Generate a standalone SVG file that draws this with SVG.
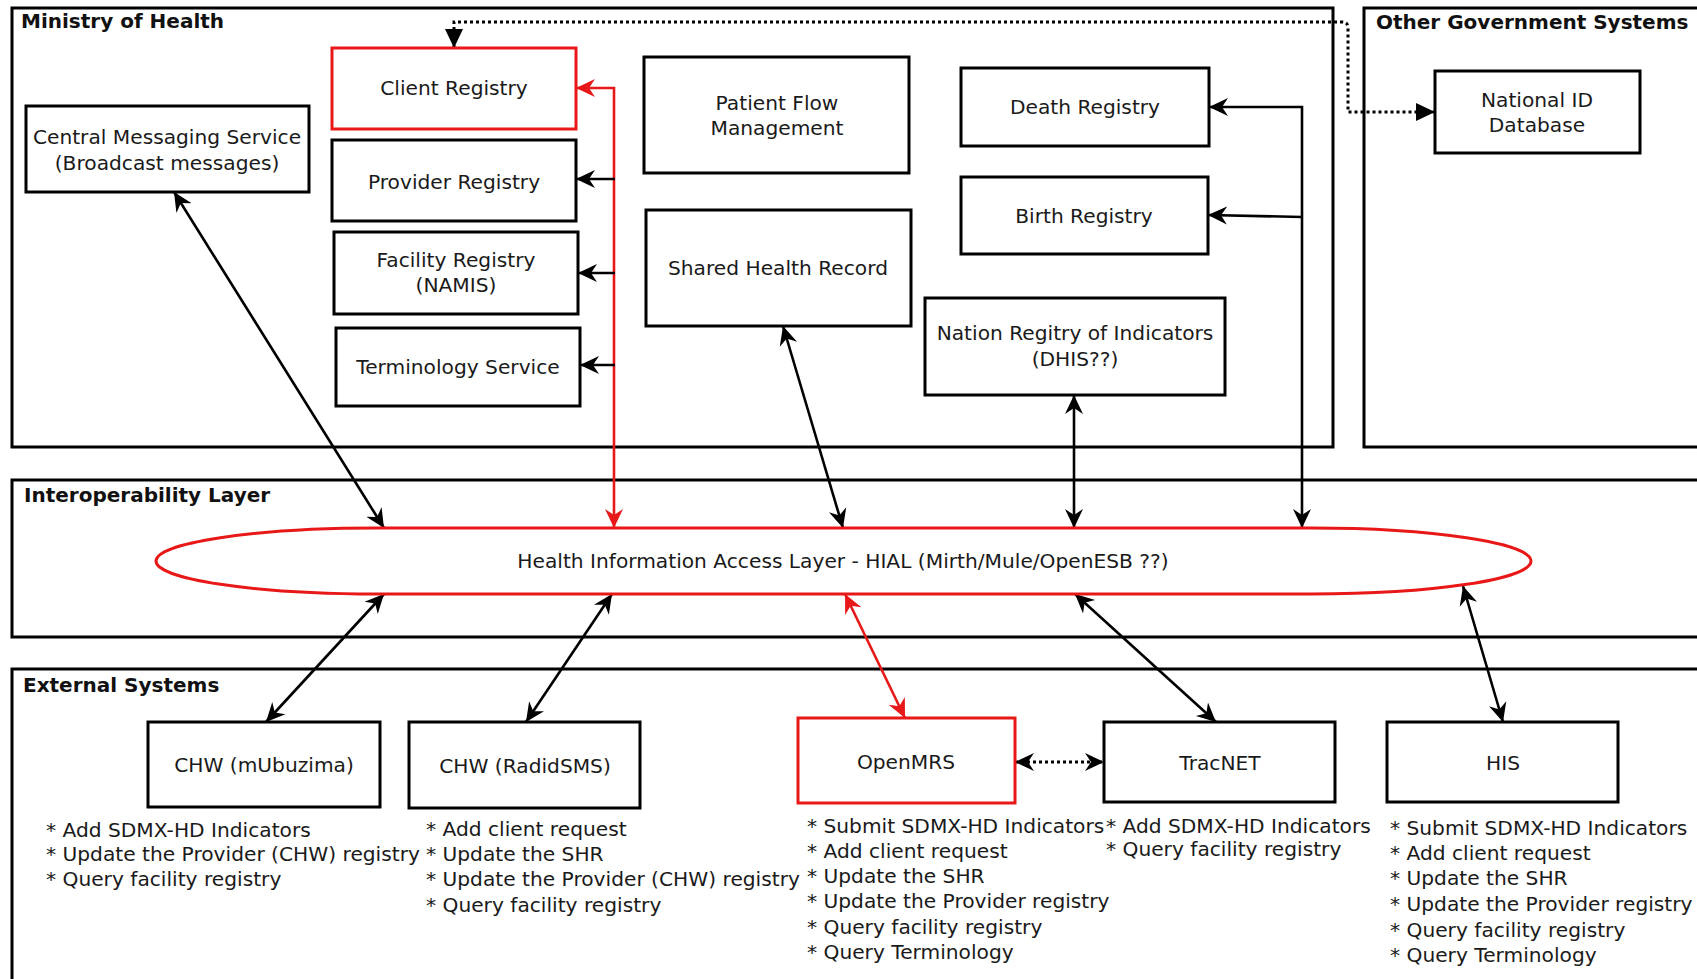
<svg xmlns="http://www.w3.org/2000/svg" width="1697" height="979" viewBox="0 0 1697 979">
<style>
.frame{fill:none;stroke:#000;stroke-width:3}
.box{fill:#fff;stroke:#000;stroke-width:3}
.rbox{fill:#fff;stroke:#e81818;stroke-width:3}
.title{font-family:"DejaVu Sans","Liberation Sans",sans-serif;font-weight:bold;font-size:20px;fill:#111}
.t{font-family:"DejaVu Sans","Liberation Sans",sans-serif;font-size:20.2px;fill:#1a1a1a;text-anchor:middle}
.l{font-family:"DejaVu Sans","Liberation Sans",sans-serif;font-size:20.2px;fill:#1a1a1a}
.c{fill:none;stroke:#000;stroke-width:2.6}
.cr{fill:none;stroke:#e81818;stroke-width:2.6}
.dot{fill:none;stroke:#000;stroke-width:3;stroke-dasharray:3 3}
</style>
<defs>
<marker id="ab" viewBox="0 -10 20 20" refX="19" refY="0" markerWidth="20" markerHeight="20" markerUnits="userSpaceOnUse" orient="auto-start-reverse">
<path d="M19,0 L0,-9 L6,0 L0,9 Z" fill="#000"/>
</marker>
<marker id="ar" viewBox="0 -10 20 20" refX="19" refY="0" markerWidth="20" markerHeight="20" markerUnits="userSpaceOnUse" orient="auto-start-reverse">
<path d="M19,0 L0,-9 L6,0 L0,9 Z" fill="#e81818"/>
</marker>
<marker id="at" viewBox="0 -10 20 20" refX="19" refY="0" markerWidth="20" markerHeight="20" markerUnits="userSpaceOnUse" orient="auto-start-reverse">
<path d="M19,0 L0,-9 L0,9 Z" fill="#000"/>
</marker>
</defs>
<rect width="1697" height="979" fill="#fff"/>

<g id="frames">
<rect class="frame" x="12" y="8" width="1321" height="439"/>
<text class="title" x="21" y="28">Ministry of Health</text>
<rect class="frame" x="1364" y="8" width="400" height="439"/>
<text class="title" x="1376" y="29">Other Government Systems</text>
<rect class="frame" x="12" y="480" width="1720" height="157"/>
<text class="title" x="24" y="502">Interoperability Layer</text>
<rect class="frame" x="12" y="669" width="1720" height="400"/>
<text class="title" x="23" y="692">External Systems</text>
</g>

<g id="connectors">
<path class="dot" d="M454,48 L454,22 L1342,22 Q1348,22 1348,28 L1348,112 L1435,112" marker-start="url(#at)" marker-end="url(#at)"/>
<path class="cr" d="M576,88 L614,88 L614,528" marker-start="url(#ar)" marker-end="url(#ar)"/>
<path class="c" d="M615,179 L576,179" marker-end="url(#ab)"/>
<path class="c" d="M615,273 L578,273" marker-end="url(#ab)"/>
<path class="c" d="M615,365 L580,365" marker-end="url(#ab)"/>
<path class="c" d="M174,192 L384,528" marker-start="url(#ab)" marker-end="url(#ab)"/>
<path class="c" d="M783,326 L843,528" marker-start="url(#ab)" marker-end="url(#ab)"/>
<path class="c" d="M1074,395 L1074,528" marker-start="url(#ab)" marker-end="url(#ab)"/>
<path class="c" d="M1209,107 L1302,107 L1302,528" marker-start="url(#ab)" marker-end="url(#ab)"/>
<path class="c" d="M1302,217 L1208,215" marker-end="url(#ab)"/>
<path class="c" d="M384,594 L266,722" marker-start="url(#ab)" marker-end="url(#ab)"/>
<path class="c" d="M612,594 L526,722" marker-start="url(#ab)" marker-end="url(#ab)"/>
<path class="cr" d="M845,594 L905,718" marker-start="url(#ar)" marker-end="url(#ar)"/>
<path class="c" d="M1075,594 L1216,722" marker-start="url(#ab)" marker-end="url(#ab)"/>
<path class="c" d="M1463,586 L1503,722" marker-start="url(#ab)" marker-end="url(#ab)"/>
<path class="dot" d="M1015,762 L1104,762" marker-start="url(#ab)" marker-end="url(#ab)"/>
</g>

<g id="central-messaging">
<rect class="box" x="26" y="106" width="283" height="86"/>
<text class="t" x="167" y="144">Central Messaging Service</text>
<text class="t" x="167" y="170">(Broadcast messages)</text>
</g>
<g id="client-registry">
<rect class="rbox" x="332" y="48" width="244" height="81"/>
<text class="t" x="454" y="95">Client Registry</text>
</g>
<g id="provider-registry">
<rect class="box" x="332" y="140" width="244" height="81"/>
<text class="t" x="454" y="189">Provider Registry</text>
</g>
<g id="facility-registry">
<rect class="box" x="334" y="232" width="244" height="82"/>
<text class="t" x="456" y="267">Facility Registry</text>
<text class="t" x="456" y="292">(NAMIS)</text>
</g>
<g id="terminology-service">
<rect class="box" x="336" y="328" width="244" height="78"/>
<text class="t" x="458" y="374">Terminology Service</text>
</g>
<g id="patient-flow">
<rect class="box" x="644" y="57" width="265" height="116"/>
<text class="t" x="777" y="110">Patient Flow</text>
<text class="t" x="777" y="135">Management</text>
</g>
<g id="shared-health-record">
<rect class="box" x="646" y="210" width="265" height="116"/>
<text class="t" x="778" y="275">Shared Health Record</text>
</g>
<g id="death-registry">
<rect class="box" x="961" y="68" width="248" height="78"/>
<text class="t" x="1085" y="114">Death Registry</text>
</g>
<g id="birth-registry">
<rect class="box" x="961" y="177" width="247" height="77"/>
<text class="t" x="1084" y="223">Birth Registry</text>
</g>
<g id="nation-registry">
<rect class="box" x="925" y="298" width="300" height="97"/>
<text class="t" x="1075" y="340">Nation Regitry of Indicators</text>
<text class="t" x="1075" y="366">(DHIS??)</text>
</g>
<g id="national-id">
<rect class="box" x="1435" y="71" width="205" height="82"/>
<text class="t" x="1537" y="107">National ID</text>
<text class="t" x="1537" y="132">Database</text>
</g>
<g id="hial">
<path d="M376,528 L1311,528 A220,33 0 0 1 1531,561 A220,33 0 0 1 1311,594 L376,594 A220,33 0 0 1 156,561 A220,33 0 0 1 376,528 Z" fill="none" stroke="#e81818" stroke-width="3"/>
<text class="t" x="843" y="568">Health Information Access Layer - HIAL (Mirth/Mule/OpenESB ??)</text>
</g>
<g id="chw-mubuzima">
<rect class="box" x="148" y="722" width="232" height="85"/>
<text class="t" x="264" y="772">CHW (mUbuzima)</text>
<text class="l" x="46" y="837">* Add SDMX-HD Indicators</text>
<text class="l" x="46" y="861">* Update the Provider (CHW) registry</text>
<text class="l" x="46" y="886">* Query facility registry</text>
</g>
<g id="chw-radidsms">
<rect class="box" x="409" y="722" width="231" height="86"/>
<text class="t" x="525" y="773">CHW (RadidSMS)</text>
<text class="l" x="426" y="836">* Add client request</text>
<text class="l" x="426" y="861">* Update the SHR</text>
<text class="l" x="426" y="886">* Update the Provider (CHW) registry</text>
<text class="l" x="426" y="912">* Query facility registry</text>
</g>
<g id="openmrs">
<rect class="rbox" x="798" y="718" width="217" height="85"/>
<text class="t" x="906" y="769">OpenMRS</text>
<text class="l" x="807" y="833">* Submit SDMX-HD Indicators</text>
<text class="l" x="807" y="858">* Add client request</text>
<text class="l" x="807" y="883">* Update the SHR</text>
<text class="l" x="807" y="908">* Update the Provider registry</text>
<text class="l" x="807" y="934">* Query facility registry</text>
<text class="l" x="807" y="959">* Query Terminology</text>
</g>
<g id="tracnet">
<rect class="box" x="1104" y="722" width="231" height="80"/>
<text class="t" x="1220" y="770">TracNET</text>
<text class="l" x="1106" y="833">* Add SDMX-HD Indicators</text>
<text class="l" x="1106" y="856">* Query facility registry</text>
</g>
<g id="his">
<rect class="box" x="1387" y="722" width="231" height="80"/>
<text class="t" x="1503" y="770">HIS</text>
<text class="l" x="1390" y="835">* Submit SDMX-HD Indicators</text>
<text class="l" x="1390" y="860">* Add client request</text>
<text class="l" x="1390" y="885">* Update the SHR</text>
<text class="l" x="1390" y="911">* Update the Provider registry</text>
<text class="l" x="1390" y="937">* Query facility registry</text>
<text class="l" x="1390" y="962">* Query Terminology</text>
</g>
</svg>
